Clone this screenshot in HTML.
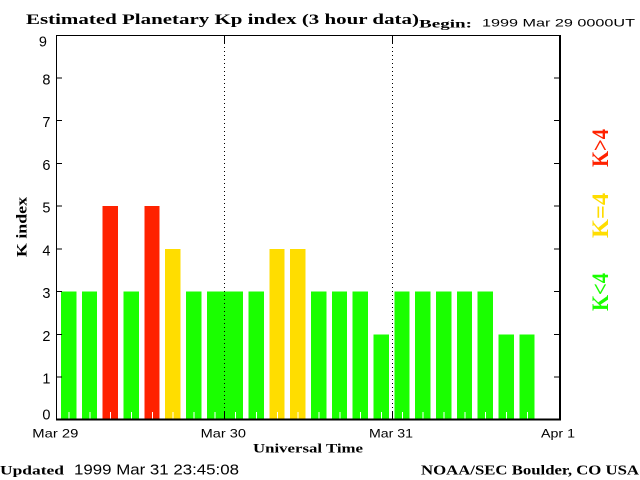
<!DOCTYPE html>
<html><head><meta charset="utf-8"><style>
html,body{margin:0;padding:0;background:#fff;}
svg{display:block;}
</style></head><body>
<svg width="640" height="480" viewBox="0 0 640 480" xmlns="http://www.w3.org/2000/svg">
<rect width="640" height="480" fill="#fff"/>
<!-- bars -->
<g shape-rendering="crispEdges">
<rect x="61" y="291.7" width="15.3" height="127.3" fill="#1aff00"/>
<rect x="81.83" y="291.7" width="15.3" height="127.3" fill="#1aff00"/>
<rect x="102.67" y="206.1" width="15.3" height="212.9" fill="#ff2200"/>
<rect x="123.5" y="291.7" width="15.3" height="127.3" fill="#1aff00"/>
<rect x="144.33" y="206.1" width="15.3" height="212.9" fill="#ff2200"/>
<rect x="165.17" y="248.9" width="15.3" height="170.1" fill="#ffdd00"/>
<rect x="186" y="291.7" width="15.3" height="127.3" fill="#1aff00"/>
<rect x="206.83" y="291.7" width="36.1" height="127.3" fill="#1aff00"/>
<rect x="248.5" y="291.7" width="15.3" height="127.3" fill="#1aff00"/>
<rect x="269.33" y="248.9" width="15.3" height="170.1" fill="#ffdd00"/>
<rect x="290.17" y="248.9" width="15.3" height="170.1" fill="#ffdd00"/>
<rect x="311" y="291.7" width="15.3" height="127.3" fill="#1aff00"/>
<rect x="331.83" y="291.7" width="15.3" height="127.3" fill="#1aff00"/>
<rect x="352.67" y="291.7" width="15.3" height="127.3" fill="#1aff00"/>
<rect x="373.5" y="334.4" width="15.3" height="84.6" fill="#1aff00"/>
<rect x="394.33" y="291.7" width="15.3" height="127.3" fill="#1aff00"/>
<rect x="415.17" y="291.7" width="15.3" height="127.3" fill="#1aff00"/>
<rect x="436" y="291.7" width="15.3" height="127.3" fill="#1aff00"/>
<rect x="456.83" y="291.7" width="15.3" height="127.3" fill="#1aff00"/>
<rect x="477.67" y="291.7" width="15.3" height="127.3" fill="#1aff00"/>
<rect x="498.5" y="334.4" width="15.3" height="84.6" fill="#1aff00"/>
<rect x="519.33" y="334.4" width="15.3" height="84.6" fill="#1aff00"/>
</g>
<!-- white minor ticks -->
<g stroke="#fff" stroke-width="1" shape-rendering="crispEdges">
<line x1="69" y1="412" x2="69" y2="419"/>
<line x1="89.8" y1="412" x2="89.8" y2="419"/>
<line x1="110.6" y1="412" x2="110.6" y2="419"/>
<line x1="131.5" y1="412" x2="131.5" y2="419"/>
<line x1="152.3" y1="412" x2="152.3" y2="419"/>
<line x1="173.1" y1="412" x2="173.1" y2="419"/>
<line x1="194" y1="412" x2="194" y2="419"/>
<line x1="214.8" y1="412" x2="214.8" y2="419"/>
<line x1="235.6" y1="412" x2="235.6" y2="419"/>
<line x1="256.5" y1="412" x2="256.5" y2="419"/>
<line x1="277.3" y1="412" x2="277.3" y2="419"/>
<line x1="298.1" y1="412" x2="298.1" y2="419"/>
<line x1="319" y1="412" x2="319" y2="419"/>
<line x1="339.8" y1="412" x2="339.8" y2="419"/>
<line x1="360.6" y1="412" x2="360.6" y2="419"/>
<line x1="381.5" y1="412" x2="381.5" y2="419"/>
<line x1="402.3" y1="412" x2="402.3" y2="419"/>
<line x1="423.1" y1="412" x2="423.1" y2="419"/>
<line x1="444" y1="412" x2="444" y2="419"/>
<line x1="464.8" y1="412" x2="464.8" y2="419"/>
<line x1="485.6" y1="412" x2="485.6" y2="419"/>
<line x1="506.5" y1="412" x2="506.5" y2="419"/>
<line x1="527.3" y1="412" x2="527.3" y2="419"/>
</g>
<!-- day separators -->
<g stroke="#000" stroke-width="1" shape-rendering="crispEdges">
<line x1="224.5" y1="43" x2="224.5" y2="411" stroke-dasharray="1,3"/>
<line x1="392.5" y1="43" x2="392.5" y2="411" stroke-dasharray="1,3"/>
<line x1="224.5" y1="35" x2="224.5" y2="43"/>
<line x1="224.5" y1="411" x2="224.5" y2="419"/>
<line x1="392.5" y1="35" x2="392.5" y2="43"/>
<line x1="392.5" y1="411" x2="392.5" y2="419"/>
</g>
<!-- axes -->
<g stroke="#000" shape-rendering="crispEdges">
<line x1="56.5" y1="35" x2="56.5" y2="420" stroke-width="1"/>
<line x1="56" y1="35.5" x2="561" y2="35.5" stroke-width="1"/>
<line x1="560" y1="35" x2="560" y2="420.5" stroke-width="2"/>
<line x1="56" y1="419.5" x2="561" y2="419.5" stroke-width="2"/>
<g stroke-width="1">
<line x1="56" y1="77.8" x2="62" y2="77.8"/><line x1="554" y1="77.8" x2="560" y2="77.8"/>
<line x1="56" y1="120.6" x2="62" y2="120.6"/><line x1="554" y1="120.6" x2="560" y2="120.6"/>
<line x1="56" y1="163.3" x2="62" y2="163.3"/><line x1="554" y1="163.3" x2="560" y2="163.3"/>
<line x1="56" y1="206.1" x2="62" y2="206.1"/><line x1="554" y1="206.1" x2="560" y2="206.1"/>
<line x1="56" y1="248.9" x2="62" y2="248.9"/><line x1="554" y1="248.9" x2="560" y2="248.9"/>
<line x1="56" y1="291.7" x2="62" y2="291.7"/><line x1="554" y1="291.7" x2="560" y2="291.7"/>
<line x1="56" y1="334.4" x2="62" y2="334.4"/><line x1="554" y1="334.4" x2="560" y2="334.4"/>
<line x1="56" y1="377.2" x2="62" y2="377.2"/><line x1="554" y1="377.2" x2="560" y2="377.2"/>
</g>
</g>
<!-- y tick labels -->
<g font-family="Liberation Sans, sans-serif" font-size="14.5" fill="#000" text-anchor="end">
<text x="47" y="46.7">9</text>
<text x="50.5" y="84.5">8</text>
<text x="50.5" y="127.1">7</text>
<text x="50.5" y="169.8">6</text>
<text x="50.5" y="212.6">5</text>
<text x="50.5" y="255.4">4</text>
<text x="50.5" y="298.2">3</text>
<text x="50.5" y="340.9">2</text>
<text x="50.5" y="383.7">1</text>
<text x="50.5" y="419.3">0</text>
</g>
<!-- x tick labels -->
<g font-family="Liberation Sans, sans-serif" font-size="12" fill="#000">
<text x="32.3" y="437.7" textLength="46" lengthAdjust="spacingAndGlyphs">Mar 29</text>
<text x="200.7" y="437.7" textLength="45.3" lengthAdjust="spacingAndGlyphs">Mar 30</text>
<text x="369" y="437.7" textLength="44" lengthAdjust="spacingAndGlyphs">Mar 31</text>
<text x="541" y="437.7" textLength="34" lengthAdjust="spacingAndGlyphs">Apr 1</text>
</g>
<!-- titles -->
<text x="26" y="24" font-family="Liberation Serif, serif" font-weight="bold" font-size="15" textLength="393" lengthAdjust="spacingAndGlyphs">Estimated Planetary Kp index (3 hour data)</text>
<text x="419" y="27.3" font-family="Liberation Serif, serif" font-weight="bold" font-size="12" textLength="53" lengthAdjust="spacingAndGlyphs">Begin:</text>
<text x="482" y="26.7" font-family="Liberation Sans, sans-serif" font-size="11" textLength="153" lengthAdjust="spacingAndGlyphs">1999 Mar 29 0000UT</text>
<text x="253" y="452.7" font-family="Liberation Serif, serif" font-weight="bold" font-size="12.5" textLength="110" lengthAdjust="spacingAndGlyphs">Universal Time</text>
<text x="0" y="474.3" font-family="Liberation Serif, serif" font-weight="bold" font-size="13" textLength="64" lengthAdjust="spacingAndGlyphs">Updated</text>
<text x="74" y="474.3" font-family="Liberation Sans, sans-serif" font-size="15" textLength="165" lengthAdjust="spacingAndGlyphs">1999 Mar 31 23:45:08</text>
<text x="421" y="474.3" font-family="Liberation Serif, serif" font-weight="bold" font-size="13.5" textLength="218" lengthAdjust="spacingAndGlyphs">NOAA/SEC Boulder, CO USA</text>
<text transform="translate(26.7,257) rotate(-90)" font-family="Liberation Serif, serif" font-weight="bold" font-size="15" textLength="60" lengthAdjust="spacingAndGlyphs">K index</text>
<!-- legend -->
<g font-family="Liberation Serif, serif" font-weight="bold" font-size="23">
<text transform="translate(608,167) rotate(-90)" fill="#ff2200" textLength="38" lengthAdjust="spacingAndGlyphs">K&gt;4</text>
<text transform="translate(608,238) rotate(-90)" fill="#ffdd00" textLength="45" lengthAdjust="spacingAndGlyphs">K=4</text>
<text transform="translate(608,311) rotate(-90)" fill="#1aff00" textLength="38" lengthAdjust="spacingAndGlyphs">K&lt;4</text>
</g>
</svg>
</body></html>
